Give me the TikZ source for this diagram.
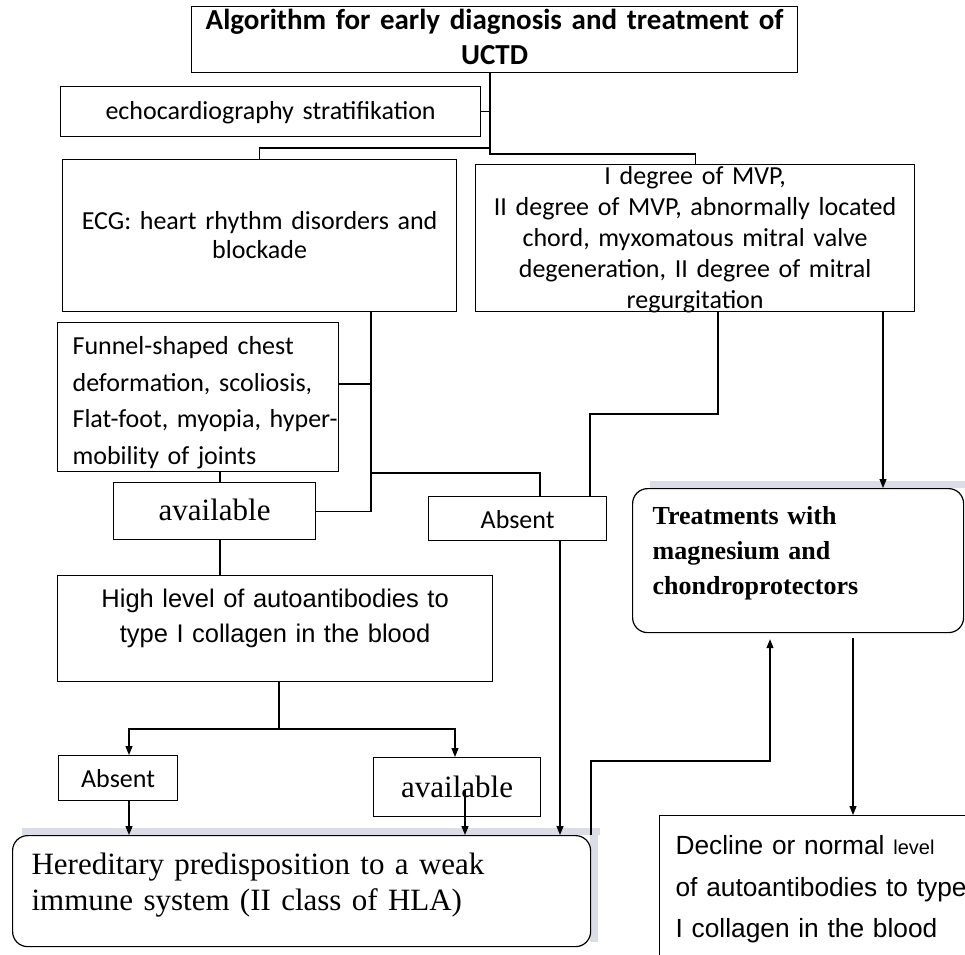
\documentclass[tikz,border=0pt]{standalone}
\usepackage{fontspec}
\newfontfamily\calfont{Carlito}
\newfontfamily\romfont{Liberation Serif}
\newfontfamily\helvfont{Liberation Sans}
\usetikzlibrary{arrows.meta}
\definecolor{scanshade}{RGB}{218,220,232}
\tikzstyle{stage} = [rectangle, draw=black, line width=1.2pt, inner sep=0pt, anchor=north west]
\tikzstyle{outcome} = [stage, rounded corners=15pt]
\tikzstyle{link} = [line width=1.2pt]
\tikzstyle{arrow} = [line width=1.2pt, -{Triangle[length=9pt,width=7pt]}]
\tikzstyle{cal} = [font=\calfont\fontsize{26}{31}\selectfont]

\begin{document}
\begin{tikzpicture}[x=1pt, y=-1pt]
    \useasboundingbox (0,0) rectangle (965,954);
    \clip (0,0) rectangle (965,954);

    % grey shadow left by the scan
    \fill [scanshade] (22,828) rectangle (600,835);
    \fill [scanshade] (590,835) rectangle (598,942);
    \fill [scanshade] (650,481) rectangle (965,488);

    \node (title) [stage, text width=606, align=center, text height=23, text depth=43, font=\calfont\bfseries\fontsize{29}{35}\selectfont] at (191,6) {Algorithm for early diagnosis and treatment of\\UCTD};
    \node (echo) [stage, cal, text width=420, align=center, text height=33, text depth=17] at (60,86) {echocardiography stratifikation};
    \node (ecg) [stage, text width=394, align=center, text height=70, text depth=82, font=\calfont\fontsize{26}{29}\selectfont] at (62,159) {ECG: heart rhythm disorders and\\blockade};
    \node (mvp) [stage, cal, text width=439, align=center, text height=20, text depth=127] at (475,164) {I degree of MVP,\\II degree of MVP, abnormally located\\chord, myxomatous mitral valve\\degeneration, II degree of mitral\\regurgitation};
    \node (funnel) [stage, inner xsep=15, text width=251, align=left, text height=32, text depth=117, font=\calfont\fontsize{26}{36.5}\selectfont] at (57,322) {Funnel-shaped chest\\deformation, scoliosis,\\\mbox{Flat-foot, myopia, hyper-}\\mobility of joints};

    \node (available) [stage, text width=202, align=center, text height=38, text depth=19, font=\romfont\fontsize{31}{36}\selectfont] at (113,482) {available};
    \node (absent) [stage, cal, text width=178, align=center, text height=32, text depth=12] at (428,496) {Absent};
    \node (treat) [outcome, inner xsep=20, text width=291, align=left, text height=36, text depth=108, font=\romfont\bfseries\fontsize{26}{35}\selectfont] at (632,488) {Treatments with\\magnesium and\\chondroprotectors};

    \node (high) [stage, text width=435, align=center, text height=32, text depth=74, font=\helvfont\fontsize{25.5}{35}\selectfont] at (57,575) {High level of autoantibodies to\\type I collagen in the blood};
    \node (absentb) [stage, cal, text width=119, align=center, text height=32, text depth=13] at (58,755) {Absent};
    \node (availableb) [stage, text width=167, align=center, text height=40, text depth=19, font=\romfont\fontsize{31}{36}\selectfont] at (373,757) {available};
    \node (hered) [outcome, inner xsep=19, text width=540, align=left, text height=39, text depth=72, font=\romfont\fontsize{31}{36}\selectfont] at (12,835) {Hereditary predisposition to a weak\\immune system (II class of HLA)};
    \node (decline) [stage, inner xsep=16, text width=330, align=left, text height=39, text depth=160, font=\helvfont\fontsize{26.3}{41.5}\selectfont] at (659,815) {Decline or normal {\fontsize{20}{20}\selectfont level}\\of autoantibodies to type\\I collagen in the blood};

    \coordinate (trunk) at (490,154);
    \coordinate (fork) at (490,148);
    \coordinate (spine) at (371,384);
    \coordinate (side) at (540,473);
    \coordinate (stem) at (220,480);
    \coordinate (valve) at (718,414);
    \coordinate (bend) at (590,414);
    \coordinate (drop) at (883,400);
    \coordinate (fall) at (560,700);
    \coordinate (split) at (279,729);
    \coordinate (lefttip) at (129,729);
    \coordinate (righttip) at (455,729);
    \coordinate (inner) at (465,790);
    \coordinate (riser) at (591,761);
    \coordinate (elbow) at (770,761);
    \coordinate (outlet) at (853,638);

    \draw [link] (title.south -| trunk) -- (trunk) -| (mvp.north);
    \draw [link] (fork) -| (ecg.north);
    \draw [link] (echo.east) -- (echo.east -| trunk);
    \draw [link] (ecg.south -| spine) |- (available.east);
    \draw [link] (funnel.east |- spine) -- (spine);
    \draw [link] (spine |- side) -| (absent.north -| side);
    \draw [link] (funnel.south -| stem) -- (available.north -| stem);
    \draw [link] (available.south -| stem) -- (high.north -| stem);
    \draw [link] (mvp.south -| valve) -- (valve) -- (bend) -- (absent.north -| bend);
    \draw [arrow] (mvp.south -| drop) -- (treat.north -| drop);
    \draw [arrow] (absent.south -| fall) -- (hered.north -| fall);
    \draw [link] (high.south -| split) -- (split);
    \draw [arrow] (split) -| (absentb.north -| lefttip);
    \draw [arrow] (split) -| (availableb.north -| righttip);
    \draw [arrow] (absentb.south -| lefttip) -- (hered.north -| lefttip);
    \draw [arrow] (inner) -- (hered.north -| inner);
    \draw [arrow, shorten >=6pt] (hered.north -| riser) -- (riser) -- (elbow) -- (treat.south -| elbow);
    \draw [arrow] (outlet) -- (decline.north -| outlet);
\end{tikzpicture}
\end{document}
